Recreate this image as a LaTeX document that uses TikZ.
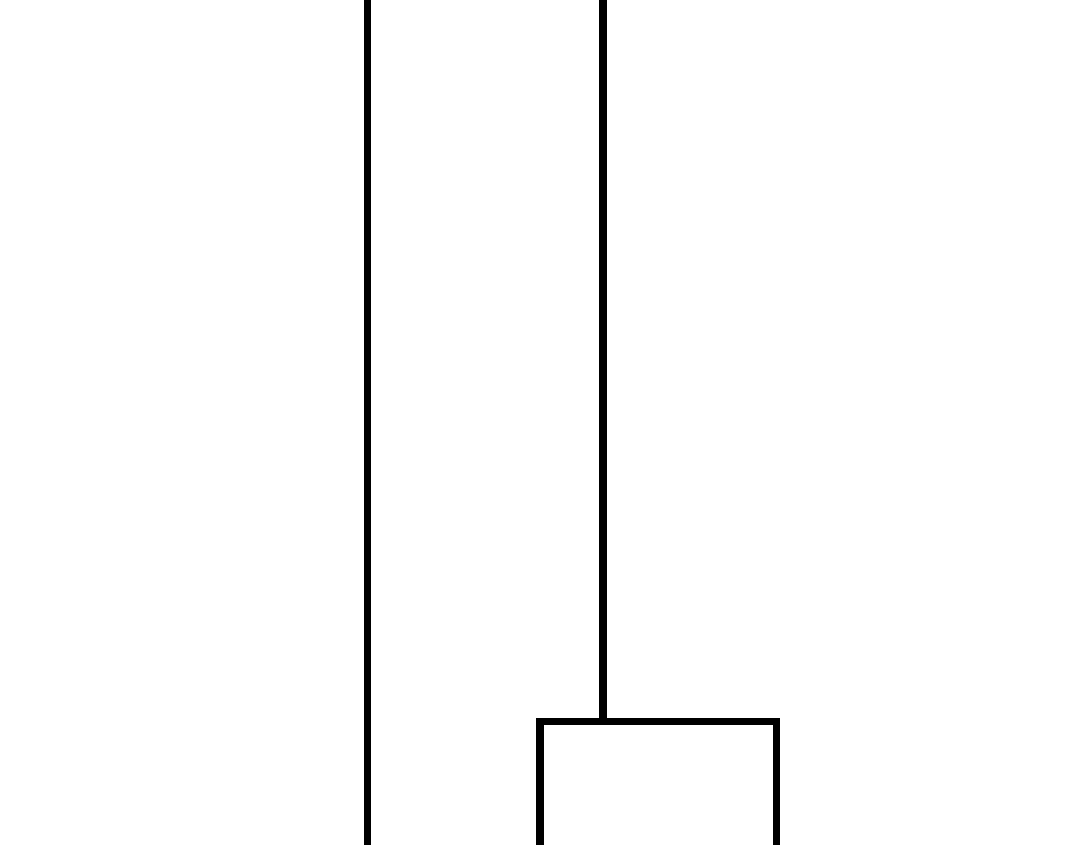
\documentclass[tikz,border=0pt]{standalone}
\usepackage{tikz}
\usetikzlibrary{calc,positioning}

\begin{document}
\begin{tikzpicture}[x=0.01cm, y=0.01cm]
\tikzset{link/.style={line width=2pt, line cap=rect, draw=black}}
\useasboundingbox (0,0) rectangle (1080,844);
\clip (0,0) rectangle (1080,844);
% upper ends of the two branches
\coordinate (A) at (367.5,860);
\coordinate (B) at (603,860);
% box below the right branch
\coordinate (J) at (603,123);
\coordinate (L) at (540,123);
\coordinate (R) at (776,123);
\coordinate (La) at (540,-20);
\coordinate (Ra) at (776,-20);
\coordinate (Aa) at (367.5,-20);
\draw[link] (A) -- (Aa);
\draw[link] (B) -- (J);
\draw[link] (La) -- (L) -- (R) -- (Ra);
\end{tikzpicture}
\end{document}
